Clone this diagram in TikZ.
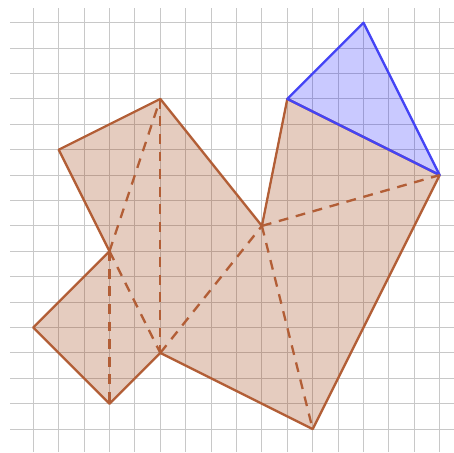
\documentclass[tikz,border=0pt]{standalone}
\definecolor{gridc}{RGB}{200,200,200}
\definecolor{brownline}{RGB}{178,94,54}
\definecolor{brownfill}{RGB}{153,51,0}
\definecolor{blueline}{RGB}{68,68,245}
\definecolor{bluefill}{RGB}{0,0,255}
\tikzset{
  gridline/.style={gridc, line width=1pt},
  brownshape/.style={draw=brownline, line width=2.6pt, line join=round, fill=brownfill, fill opacity=0.25},
  browndash/.style={brownline, line width=2.6pt, dash pattern=on 11pt off 8.7pt},
  blueshape/.style={draw=blueline, line width=2.6pt, line join=round, fill=bluefill, fill opacity=0.21}
}
\begin{document}
\begin{tikzpicture}[x=1cm,y=1cm]
\useasboundingbox (-1.311,-0.902) rectangle (16.563,16.894);
% grid
\foreach \i in {0,...,16} \draw[gridline] (\i,-0.902) -- (\i,16.58);
\foreach \j in {0,...,16} \draw[gridline] (-0.917,\j) -- (16.563,\j);
% vertices
\coordinate (A) at (1,11);
\coordinate (B) at (5,13);
\coordinate (C) at (9,8);
\coordinate (D) at (10,13);
\coordinate (E) at (16,10);
\coordinate (F) at (11,0);
\coordinate (G) at (5,3);
\coordinate (H) at (3,1);
\coordinate (I) at (0,4);
\coordinate (J) at (3,7);
\coordinate (K) at (13,16);
% shapes
\draw[brownshape] (A) -- (B) -- (C) -- (D) -- (E) -- (F) -- (G) -- (H) -- (I) -- (J) -- cycle;
\draw[blueshape] (D) -- (K) -- (E) -- cycle;
% dashed diagonals
\draw[browndash] (J) -- (B);
\draw[browndash] (B) -- (G);
\draw[browndash] (J) -- (G);
\draw[browndash] (J) -- (H);
\draw[browndash] (G) -- (C);
\draw[browndash] (C) -- (E);
\draw[browndash] (C) -- (F);
\end{tikzpicture}
\end{document}
